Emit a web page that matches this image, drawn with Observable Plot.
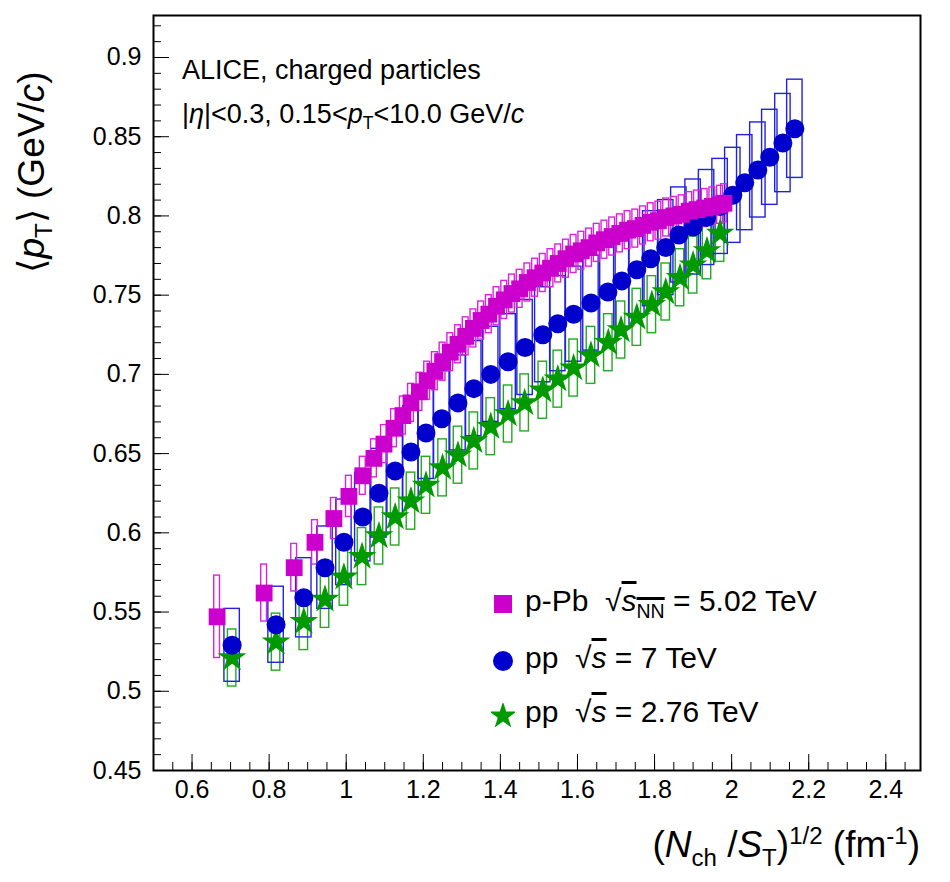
<!DOCTYPE html>
<html><head><meta charset="utf-8">
<script src="https://cdn.jsdelivr.net/npm/d3@7"></script>
<script src="https://cdn.jsdelivr.net/npm/@observablehq/plot@0.6"></script>
<style>
body{margin:0;background:#fff;font-family:"Liberation Sans",Arial,sans-serif}
#wrap{position:relative;width:950px;height:882px}
.t{position:absolute;color:#000;white-space:nowrap;font-family:"Liberation Sans",Arial,sans-serif}
sub,sup{font-size:65%}
.ov{text-decoration:overline}
</style></head><body>
<div id="wrap"></div>
<script>
// p-Pb 5.02 TeV
const pPbX = [0.665,0.787,0.865,0.919,0.968,1.007,1.043,1.072,1.098,1.124,1.147,1.168,1.19,1.21,1.23,1.25,1.27,1.29,1.31,1.33,1.35,1.37,1.39,1.41,1.43,1.45,1.47,1.49,1.51,1.53,1.55,1.57,1.59,1.61,1.63,1.65,1.67,1.69,1.71,1.73,1.75,1.77,1.79,1.81,1.83,1.85,1.87,1.89,1.91,1.93,1.95,1.97,1.98];
const pPbY = [0.547,0.562,0.578,0.594,0.609,0.623,0.636,0.647,0.656,0.666,0.674,0.682,0.689,0.696,0.702,0.708,0.714,0.719,0.724,0.729,0.734,0.738,0.743,0.747,0.751,0.754,0.758,0.761,0.764,0.767,0.770,0.773,0.776,0.778,0.780,0.783,0.785,0.787,0.789,0.791,0.792,0.794,0.796,0.797,0.799,0.800,0.801,0.803,0.804,0.805,0.806,0.807,0.808];
const pPbSys = [0.026,0.018,0.015,0.014,0.013,0.013,0.012,0.012,0.012,0.012,0.012,0.012,0.012,0.012,0.012,0.012,0.012,0.012,0.012,0.012,0.012,0.012,0.012,0.012,0.012,0.012,0.012,0.012,0.012,0.012,0.012,0.012,0.012,0.012,0.012,0.012,0.012,0.012,0.012,0.012,0.012,0.012,0.012,0.012,0.012,0.012,0.012,0.012,0.012,0.012,0.012,0.012,0.012];
// pp 7 TeV
const pp7X = [0.704,0.818,0.89,0.945,0.994,1.043,1.085,1.127,1.168,1.207,1.248,1.29,1.331,1.375,1.42,1.464,1.51,1.549,1.59,1.635,1.679,1.715,1.754,1.79,1.829,1.863,1.90,1.935,1.97,2.003,2.034,2.068,2.099,2.133,2.164];
const pp7Y = [0.529,0.542,0.559,0.578,0.594,0.610,0.625,0.639,0.651,0.663,0.672,0.682,0.691,0.700,0.708,0.717,0.725,0.732,0.738,0.745,0.752,0.759,0.766,0.773,0.780,0.788,0.793,0.799,0.806,0.813,0.821,0.829,0.837,0.846,0.855];
const pp7Sys = [0.023,0.024,0.025,0.026,0.027,0.028,0.028,0.029,0.029,0.029,0.030,0.030,0.030,0.030,0.030,0.030,0.030,0.030,0.030,0.030,0.030,0.030,0.030,0.030,0.030,0.030,0.030,0.030,0.030,0.030,0.030,0.030,0.030,0.031,0.031];
// pp 2.76 TeV
const pp276X = [0.704,0.818,0.89,0.945,0.994,1.041,1.085,1.127,1.168,1.207,1.25,1.29,1.331,1.375,1.42,1.463,1.51,1.549,1.59,1.635,1.68,1.713,1.754,1.793,1.829,1.866,1.90,1.936,1.97];
const pp276Y = [0.521,0.531,0.544,0.558,0.572,0.585,0.598,0.610,0.620,0.630,0.641,0.649,0.658,0.667,0.675,0.682,0.690,0.697,0.704,0.712,0.720,0.728,0.736,0.744,0.752,0.761,0.769,0.778,0.789];
const pp276Sys = 0.018;

const xMajor = [0.6,0.8,1.0,1.2,1.4,1.6,1.8,2.0,2.2,2.4];
const xMinor = d3.range(0.5,2.49,0.05).map(v=>+v.toFixed(2));
const yMajor = [0.45,0.5,0.55,0.6,0.65,0.7,0.75,0.8,0.85,0.9];
const yMinor = d3.range(0.45,0.926,0.01).map(v=>+v.toFixed(2));

const pPb = pPbX.map((x,i)=>({x,y:pPbY[i],e:pPbSys[i],w:0.0075}));
const pp7 = pp7X.map((x,i)=>({x,y:pp7Y[i],e:pp7Sys[i],w:0.02}));
const pp276 = pp276X.map((x,i)=>({x,y:pp276Y[i],e:pp276Sys,w:0.011}));
const MAG="#cc00cc", BLU="#0000cc", GRN="#009900";
const box=(data,stroke)=>Plot.rect(data,{x1:d=>d.x-d.w,x2:d=>d.x+d.w,y1:d=>d.y-d.e,y2:d=>d.y+d.e,fill:"none",stroke,strokeWidth:1.4});
const blank = ()=>"";
const chart = Plot.plot({
  width:950,height:882,marginLeft:153,marginRight:30,marginTop:15,marginBottom:112,
  x:{domain:[0.5,2.49]}, y:{domain:[0.45,0.9265]},
  style:{fontFamily:"Liberation Sans, Arial, sans-serif",fontSize:"25px",color:"#000",background:"#fff"},
  marks:[
    box(pp276,"#22aa22"), box(pp7,"#2222dd"), box(pPb,"#dd22dd"),
    Plot.dot(pp276,{x:"x",y:"y",symbol:"star",r:9,fill:GRN,stroke:"none"}),
    Plot.dot(pp7,{x:"x",y:"y",symbol:"circle",r:9.5,fill:BLU,stroke:"none"}),
    Plot.dot(pPb,{x:"x",y:"y",symbol:"square",r:9.5,fill:MAG,stroke:"none"}),
    Plot.frame({stroke:"#000",strokeWidth:2}),
    Plot.axisX({ticks:xMinor,tickFormat:blank,tickSize:-8,label:null}),
    Plot.axisX({ticks:xMajor,tickFormat:d=>String(d),tickSize:-16,tickPadding:26,label:null}),
    Plot.axisY({ticks:yMinor,tickFormat:blank,tickSize:-8,label:null}),
    Plot.axisY({ticks:yMajor,tickFormat:d=>String(d),tickSize:-16,tickPadding:28,label:null})
  ]
});
d3.select(chart).selectAll("[aria-label^='axis'] path, [aria-label^='axis'] line").attr("stroke-width",2);
d3.select(chart).selectAll("[aria-label^='axis'] text").style("font-size","25px");
const wrap=document.getElementById("wrap");
wrap.appendChild(chart);
const add=(html,style)=>{const d=document.createElement("div");d.className="t";d.innerHTML=html;Object.assign(d.style,style);wrap.appendChild(d);};
add("ALICE, charged particles",{left:"182px",top:"55px",fontSize:"27px"});
add("|<i>η</i>|&lt;0.3, 0.15&lt;<i>p</i><sub>T</sub>&lt;10.0 GeV/<i>c</i>",{left:"182px",top:"99px",fontSize:"27px"});
add("⟨<i>p</i><sub>T</sub>⟩ (GeV/<i>c</i>)",{fontSize:"37px",transform:"rotate(-90deg)",transformOrigin:"center",width:"260px",height:"44px",textAlign:"center",left:"-98px",top:"150px"});
add("(<i>N</i><sub>ch</sub> /<i>S</i><sub>T</sub>)<sup>1/2</sup> (fm<sup>-1</sup>)",{right:"30px",top:"822px",fontSize:"37px"});
const sym={sq:`<svg width="24" height="24"><rect x="3" y="3" width="18" height="18" fill="${MAG}"/></svg>`,
 ci:`<svg width="24" height="24"><circle cx="12" cy="12" r="10" fill="${BLU}"/></svg>`,
 st:`<svg width="24" height="24"><path d="${d3.symbol(d3.symbolStar,230)()}" transform="translate(12,13)" fill="${GRN}"/></svg>`};
add(sym.sq,{left:"491px",top:"592px"});
add(sym.ci,{left:"491px",top:"649px"});
add(sym.st,{left:"491px",top:"703px"});
add("p-Pb &nbsp;√<span class='ov'><i>s</i><sub>NN</sub></span> = 5.02 TeV",{left:"525px",top:"584px",fontSize:"30px"});
add("pp &nbsp;√<span class='ov'><i>s</i></span> = 7 TeV",{left:"525px",top:"641px",fontSize:"30px"});
add("pp &nbsp;√<span class='ov'><i>s</i></span> = 2.76 TeV",{left:"525px",top:"695px",fontSize:"30px"});
</script></body></html>
